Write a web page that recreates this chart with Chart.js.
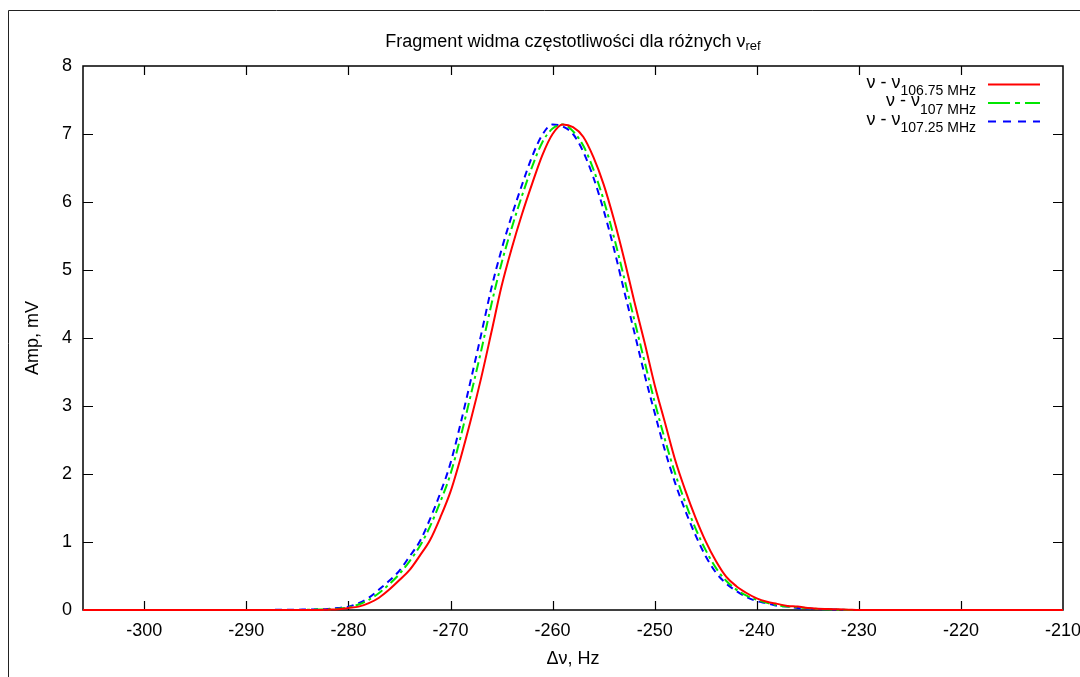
<!DOCTYPE html>
<html>
<head>
<meta charset="utf-8">
<title>Fragment widma częstotliwości</title>
<script src="https://cdn.jsdelivr.net/npm/chart.js@4/dist/chart.umd.min.js"></script>
<style>
  html, body { margin: 0; padding: 0; background: #fff; }
  canvas { display: block; }
</style>
</head>
<body>
<canvas id="myChart" width="1080" height="677"></canvas>
<script>
// frequency offset, Hz
const freq = [-306, -295, -286, -285, -284, -283, -282, -281, -280, -279, -278, -277, -276, -275, -274, -273, -272, -271, -270, -269,
  -268, -267, -266, -265, -264, -263, -262, -261, -260, -259, -258, -257, -256, -255, -254, -253, -252, -251, -250, -249,
  -248, -247, -246, -245, -244, -243, -242, -241, -240, -239, -238, -237, -236, -235, -234, -233, -232, -231, -230, -220, -210];

// amplitude, mV
const amp10675 = [0, 0, 0, 0, 0, 0, 0.005, 0.01, 0.03, 0.05, 0.10, 0.18, 0.30, 0.44, 0.59, 0.80, 1.03, 1.36, 1.74, 2.24,
  2.80, 3.41, 4.08, 4.76, 5.32, 5.82, 6.27, 6.69, 7.00, 7.14, 7.10, 6.96, 6.66, 6.26, 5.75, 5.17, 4.54, 3.94, 3.31, 2.76,
  2.21, 1.76, 1.36, 1.01, 0.72, 0.49, 0.35, 0.25, 0.17, 0.12, 0.09, 0.06, 0.05, 0.03, 0.02, 0.015, 0.01, 0.005, 0, 0, 0];
const amp107 = [0, 0, 0, 0, 0.003, 0.008, 0.01, 0.02, 0.04, 0.08, 0.15, 0.25, 0.38, 0.53, 0.72, 0.94, 1.23, 1.59, 2.00, 2.55,
  3.17, 3.81, 4.49, 5.10, 5.62, 6.09, 6.52, 6.88, 7.08, 7.14, 7.04, 6.83, 6.48, 6.03, 5.49, 4.89, 4.27, 3.66, 3.06, 2.51,
  2.01, 1.58, 1.20, 0.88, 0.62, 0.43, 0.30, 0.21, 0.15, 0.105, 0.07, 0.05, 0.04, 0.025, 0.015, 0.01, 0.005, 0, 0, 0, 0];
const amp10725 = [0, 0, 0.003, 0.005, 0.008, 0.01, 0.015, 0.03, 0.05, 0.10, 0.18, 0.30, 0.43, 0.58, 0.79, 1.01, 1.34, 1.72, 2.16, 2.75,
  3.39, 4.05, 4.73, 5.30, 5.80, 6.25, 6.67, 6.99, 7.14, 7.11, 7.00, 6.74, 6.36, 5.88, 5.32, 4.70, 4.09, 3.47, 2.90, 2.35,
  1.87, 1.46, 1.10, 0.79, 0.55, 0.39, 0.28, 0.19, 0.13, 0.10, 0.06, 0.05, 0.03, 0.02, 0.015, 0.01, 0.005, 0, 0, 0, 0];

const xTicks = [-300, -290, -280, -270, -260, -250, -240, -230, -220, -210];
const yTicks = [0, 1, 2, 3, 4, 5, 6, 7, 8];
const seriesSubs = ['106.75 MHz', '107 MHz', '107.25 MHz'];
const titleMain = 'Fragment widma częstotliwości dla różnych ν';
const titleSub = 'ref';

const FONT = '"Liberation Sans", Arial, sans-serif';

const toPoints = (ys) => freq.map((x, i) => ({ x: x, y: ys[i] }));

// text with a lowered, smaller part
function drawSub(ctx, main, sub, x, y, align, size, subSize, drop) {
  ctx.font = size + 'px ' + FONT;
  const w1 = ctx.measureText(main).width;
  ctx.font = subSize + 'px ' + FONT;
  const w2 = ctx.measureText(sub).width;
  let left = x;
  if (align === 'right') left = x - w1 - w2;
  if (align === 'center') left = x - (w1 + w2) / 2;
  ctx.textAlign = 'left';
  ctx.textBaseline = 'alphabetic';
  ctx.font = size + 'px ' + FONT;
  ctx.fillText(main, left, y);
  ctx.font = subSize + 'px ' + FONT;
  ctx.fillText(sub, left + w1, y + drop);
}

const decor = {
  id: 'decor',
  beforeDraw(chart) {
    const ctx = chart.ctx;
    ctx.save();
    ctx.fillStyle = '#fff';
    ctx.fillRect(0, 0, chart.width, chart.height);
    // outer frame
    ctx.strokeStyle = '#222';
    ctx.lineWidth = 1;
    ctx.beginPath();
    ctx.moveTo(8.5, chart.height);
    ctx.lineTo(8.5, 10.5);
    ctx.lineTo(chart.width, 10.5);
    ctx.stroke();
    ctx.restore();
  },
  beforeDatasetsDraw(chart) {
    const { ctx, chartArea: a, scales: { x, y } } = chart;
    ctx.save();
    ctx.strokeStyle = '#000';
    ctx.lineWidth = 1.5;
    ctx.strokeRect(a.left, a.top, a.right - a.left, a.bottom - a.top);
    ctx.beginPath();
    xTicks.forEach(v => {
      const px = Math.round(x.getPixelForValue(v)) + 0.5;
      if (px <= a.left + 1 || px >= a.right - 1) return;
      ctx.moveTo(px, a.bottom); ctx.lineTo(px, a.bottom - 9);
      ctx.moveTo(px, a.top); ctx.lineTo(px, a.top + 9);
    });
    yTicks.forEach(v => {
      const py = Math.round(y.getPixelForValue(v)) + 0.5;
      if (py <= a.top + 1 || py >= a.bottom - 1) return;
      ctx.moveTo(a.left, py); ctx.lineTo(a.left + 10, py);
      ctx.moveTo(a.right, py); ctx.lineTo(a.right - 10, py);
    });
    ctx.lineWidth = 1.2;
    ctx.stroke();
    ctx.restore();
  },
  afterDraw(chart) {
    const { ctx, chartArea: a } = chart;
    ctx.save();
    ctx.fillStyle = '#000';
    // title
    drawSub(ctx, titleMain, titleSub, (a.left + a.right) / 2, 46.5, 'center', 18, 13, 3);
    // axis titles
    ctx.font = '18px ' + FONT;
    ctx.textAlign = 'center';
    ctx.textBaseline = 'alphabetic';
    ctx.fillText('Δν, Hz', (a.left + a.right) / 2, 664);
    ctx.save();
    ctx.translate(38, (a.top + a.bottom) / 2);
    ctx.rotate(-Math.PI / 2);
    ctx.fillText('Amp, mV', 0, 0);
    ctx.restore();
    // legend
    chart.data.datasets.forEach((ds, i) => {
      const ly = 84.5 + i * 18.5;
      ctx.fillStyle = '#000';
      drawSub(ctx, 'ν - ν', seriesSubs[i], 976, ly + 3, 'right', 18, 14, 7.5);
      ctx.strokeStyle = ds.borderColor;
      ctx.lineWidth = 2;
      ctx.setLineDash(ds.legendDash);
      ctx.beginPath();
      ctx.moveTo(988, ly);
      ctx.lineTo(1040, ly);
      ctx.stroke();
    });
    ctx.restore();
  }
};

const ctx = document.getElementById('myChart');

new Chart(ctx, {
  type: 'line',
  data: {
    datasets: [
      { data: toPoints(amp10675), borderColor: '#ff0000', borderWidth: 2, borderDash: [], legendDash: [] },
      { data: toPoints(amp107), borderColor: '#00e600', borderWidth: 2, borderDash: [10, 4, 3, 4], legendDash: [22, 5, 5, 5] },
      { data: toPoints(amp10725), borderColor: '#0000ff', borderWidth: 2, borderDash: [7, 5], legendDash: [8, 7] }
    ]
  },
  options: {
    responsive: false,
    animation: false,
    devicePixelRatio: 1,
    layout: { padding: { left: 0, top: 66, right: 17, bottom: 0 } },
    elements: {
      point: { radius: 0 },
      line: { cubicInterpolationMode: 'monotone', fill: false }
    },
    datasets: { line: { clip: false } },
    plugins: {
      legend: { display: false },
      title: { display: false },
      tooltip: { enabled: false }
    },
    scales: {
      x: {
        type: 'linear',
        min: -306,
        max: -210,
        afterBuildTicks: (s) => { s.ticks = xTicks.map(v => ({ value: v })); },
        afterFit: (s) => { s.height = 67; s.paddingLeft = 0; s.paddingRight = 0; },
        grid: { display: false, drawTicks: false },
        border: { display: false },
        ticks: { color: '#000', padding: 10, maxRotation: 0, autoSkip: false, font: { family: FONT, size: 18 } }
      },
      y: {
        min: 0,
        max: 8,
        afterBuildTicks: (s) => { s.ticks = yTicks.map(v => ({ value: v })); },
        afterFit: (s) => { s.width = 83; s.paddingTop = 0; s.paddingBottom = 0; },
        grid: { display: false, drawTicks: false },
        border: { display: false },
        ticks: { color: '#000', padding: 11, font: { family: FONT, size: 18 } }
      }
    }
  },
  plugins: [decor]
});
</script>
</body>
</html>
